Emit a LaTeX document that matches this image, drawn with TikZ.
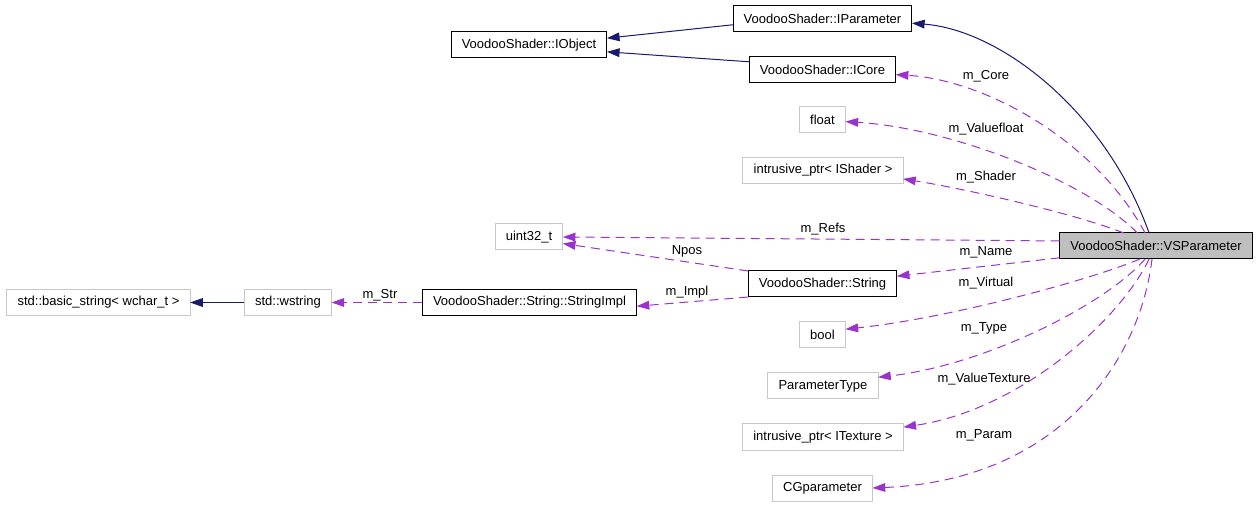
\documentclass[tikz,border=0pt]{standalone}
\usepackage{fontspec}
\setmainfont{Liberation Sans}
\usepackage{xcolor}
\usepackage{tikz}
\usetikzlibrary{arrows.meta,positioning}
\definecolor{edgenavy}{HTML}{191970}
\definecolor{edgeorchid}{HTML}{9A32CD}
\definecolor{boxgrey}{HTML}{BFBFBF}
\definecolor{lightedge}{HTML}{C8C8C8}

\begin{document}
\begin{tikzpicture}[x=0.75pt,y=-0.75pt,font=\fontsize{9.75}{11}\selectfont,
  clsbox/.style={draw=black,line width=0.75pt,inner xsep=8pt,inner ysep=0pt,minimum height=19.5pt,outer sep=0pt},
  extbox/.style={clsbox,draw=lightedge},
  inh/.style={draw=edgenavy,line width=0.75pt,-{Triangle[length=9.5pt,width=6.5pt]}},
  uses/.style={draw=edgeorchid,line width=0.75pt,dash pattern=on 6.75pt off 4.5pt,-{Triangle[length=9.5pt,width=6.5pt]}}]
\useasboundingbox (0,0) rectangle (1259,505);
% classes
\node[clsbox] (ipar) at (822.5,18.5) {VoodooShader::IParameter};
\node[clsbox] (iobj) at (529,45) {VoodooShader::IObject};
\node[clsbox] (icore) at (822.5,69.5) {VoodooShader::ICore};
\node[extbox] (flt) at (822.5,120) {float};
\node[extbox] (ishd) at (823,170.5) {intrusive\_ptr< IShader >};
\node[extbox] (uint) at (529,237) {uint32\_t};
\node[clsbox,fill=boxgrey] (vsp) at (1156,246) {VoodooShader::VSParameter};
\node[clsbox] (str) at (822.5,284) {VoodooShader::String};
\node[extbox] (bstr) at (98.5,302.5) {std::basic\_string< wchar\_t >};
\node[extbox] (wstr) at (288,302.5) {std::wstring};
\node[clsbox] (simpl) at (529.5,302.5) {VoodooShader::String::StringImpl};
\node[extbox] (bool) at (822.5,334.5) {bool};
\node[extbox] (ptype) at (823,386) {ParameterType};
\node[extbox] (itex) at (823,437) {intrusive\_ptr< ITexture >};
\node[extbox] (cgp) at (822.5,488) {CGparameter};
% inheritance
\draw[inh] (vsp.118) .. controls (1105,110) and (1000,30) .. (ipar.-3.5);
\draw[inh] (ipar.184.8) -- (iobj.5.9);
\draw[inh] (icore.174.9) -- (iobj.-5.1);
\draw[inh] (wstr.west) -- (bstr.east);
% members
\draw[uses] (vsp.130) .. controls (1095,140) and (985,80) .. (icore.-4.3);
\draw[uses] (vsp.145.6) .. controls (1085,180) and (950,128) .. (flt.-4.9);
\draw[uses] (vsp.158.5) .. controls (1070,212) and (960,188) .. (ishd.-6.8);
\draw[uses] (vsp.177.6) -- (uint.east);
\draw[uses] (vsp.-173.1) -- (str.6.9);
\draw[uses] (vsp.-141) .. controls (1090,280) and (950,318) .. (bool.13.2);
\draw[uses] (vsp.-130.2) .. controls (1105,305) and (985,365) .. (ptype.9.3);
\draw[uses] (vsp.-118.3) .. controls (1120,320) and (1020,410) .. (itex.7.1);
\draw[uses] (vsp.-107) .. controls (1140,360) and (1060,480) .. (cgp.east);
\draw[uses] (str.north west) -- (uint.-11.6);
\draw[uses] (str.south west) -- (simpl.-2);
\draw[uses] (simpl.west) -- (wstr.east);
% labels
\node at (986,76) {m\_Core};
\node at (986,129) {m\_Valuefloat};
\node at (986,177) {m\_Shader};
\node at (823,229) {m\_Refs};
\node at (986,252) {m\_Name};
\node at (986,283) {m\_Virtual};
\node at (984,328) {m\_Type};
\node at (984,379) {m\_ValueTexture};
\node at (984,435) {m\_Param};
\node at (687,251) {Npos};
\node at (687,292) {m\_Impl};
\node at (380,295) {m\_Str};
\end{tikzpicture}
\end{document}
